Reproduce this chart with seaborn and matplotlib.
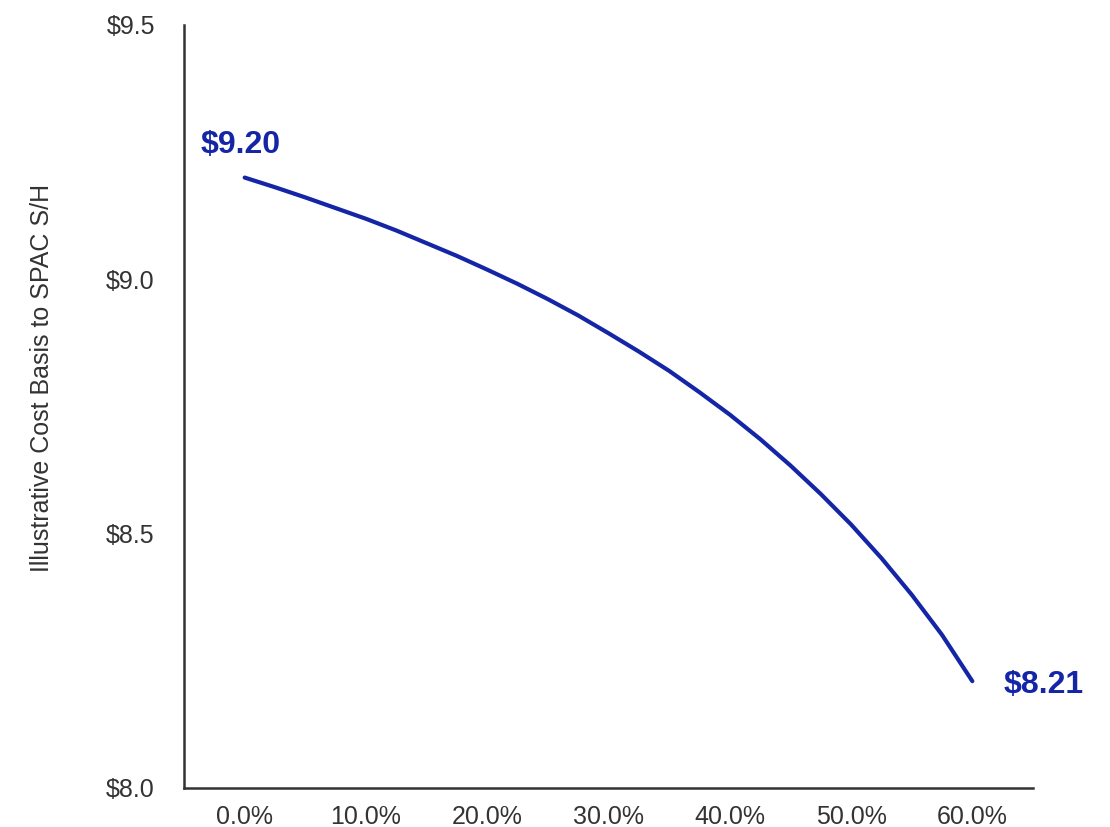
import numpy as np
import pandas as pd
import matplotlib
matplotlib.use("Agg")
import matplotlib.pyplot as plt
import seaborn as sns
from matplotlib.ticker import FuncFormatter

# redemption % vs illustrative cost basis
redemption = [0.0, 2.5, 5.0, 7.5, 10.0, 12.5, 15.0, 17.5, 20.0, 22.5, 25.0, 27.5, 30.0,
              32.5, 35.0, 37.5, 40.0, 42.5, 45.0, 47.5, 50.0, 52.5, 55.0, 57.5, 60.0]
cost_basis = [9.20, 9.181, 9.161, 9.140, 9.119, 9.096, 9.071, 9.046, 9.019, 8.991, 8.961,
              8.929, 8.894, 8.858, 8.820, 8.778, 8.734, 8.686, 8.634, 8.578, 8.518,
              8.452, 8.380, 8.301, 8.21]
x_ticks = [0, 10, 20, 30, 40, 50, 60]
y_ticks = [8.0, 8.5, 9.0, 9.5]
start_label = "$9.20"
end_label = "$8.21"
y_title = "Illustrative Cost Basis to SPAC S/H"

blue = "#1426a6"
grey = "#333333"

sns.set_style("white")
plt.rcParams['font.family'] = ['Liberation Sans', 'DejaVu Sans']

df = pd.DataFrame({"redemption": redemption, "cost": cost_basis})

fig = plt.figure(figsize=(11.1, 8.27), dpi=100)
ax = fig.add_axes([0.1658, 0.0472, 0.9306 - 0.1658, 0.9698 - 0.0472])

sns.lineplot(data=df, x="redemption", y="cost", ax=ax, color=blue, linewidth=3)

ax.set_xlim(-5, 65)
ax.set_ylim(8.0, 9.5)
ax.set_xticks(x_ticks)
ax.set_yticks(y_ticks)
ax.xaxis.set_major_formatter(FuncFormatter(lambda v, p: f"{v:.1f}%"))
ax.yaxis.set_major_formatter(FuncFormatter(lambda v, p: f"${v:.1f}"))
ax.tick_params(axis="both", length=0, labelsize=18, colors=grey)
ax.tick_params(axis="x", pad=12)
ax.tick_params(axis="y", pad=21)

ax.set_xlabel("")
ax.set_ylabel(y_title, fontsize=18, color=grey)
ax.yaxis.set_label_coords(-0.153, 0.537)

sns.despine(ax=ax)
for s in ["left", "bottom"]:
    ax.spines[s].set_color(grey)
    ax.spines[s].set_linewidth(1.8)

ax.text(redemption[0] - 0.3, cost_basis[0] + 0.064, start_label, color=blue,
        fontsize=23, fontweight="bold", ha="center", va="center")
ax.text(redemption[-1] + 2.6, cost_basis[-1] - 0.008, end_label, color=blue,
        fontsize=23, fontweight="bold", ha="left", va="center")

fig.savefig("out.png", dpi=100)
